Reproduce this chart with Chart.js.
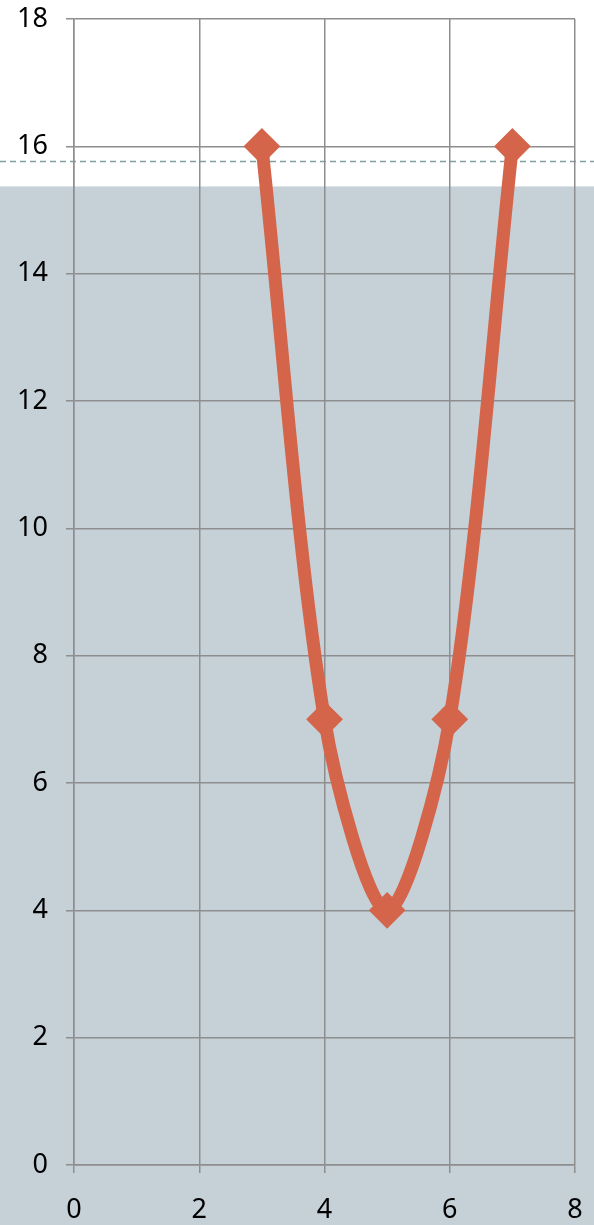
<!DOCTYPE html>
<html>
<head>
<meta charset="utf-8">
<script src="https://cdn.jsdelivr.net/npm/chart.js@4/dist/chart.umd.min.js"></script>
<style>
  html, body { margin: 0; padding: 0; background: #ffffff; }
  #wrap { width: 594px; height: 1225px; position: relative; }
</style>
</head>
<body>
<div id="wrap"><canvas id="chart"></canvas></div>
<script>
// data
const xValues = [3, 4, 5, 6, 7];
const yValues = [16, 7, 4, 7, 16];
const xTicks = [0, 2, 4, 6, 8];
const yTicks = [0, 2, 4, 6, 8, 10, 12, 14, 16, 18];

// shaded band below this value, dashed reference a bit above it
const bandTop = 15.37;
const dashLevel = 15.76;

const points = xValues.map((x, i) => ({ x: x, y: yValues[i] }));

const bandPlugin = {
  id: 'band',
  beforeDraw(chart) {
    const ctx = chart.ctx;
    const y = chart.scales.y;
    const top = y.getPixelForValue(bandTop);
    const dash = y.getPixelForValue(dashLevel);
    ctx.save();
    ctx.fillStyle = '#c5d0d7';
    ctx.fillRect(0, top, chart.width, chart.height - top);
    ctx.strokeStyle = '#7f9fa0';
    ctx.lineWidth = 1.5;
    ctx.setLineDash([6, 4]);
    ctx.beginPath();
    ctx.moveTo(0, dash);
    ctx.lineTo(chart.width, dash);
    ctx.stroke();
    ctx.restore();
  }
};

const gridColor = '#8e8e8e';
const tickFont = { family: 'Noto Sans', size: 27, lineHeight: 1 };

new Chart(document.getElementById('chart'), {
  type: 'line',
  data: {
    datasets: [{
      data: points,
      borderColor: '#d4654a',
      backgroundColor: '#d4654a',
      borderWidth: 13,
      tension: 0.3,
      pointStyle: 'rectRot',
      pointRadius: 17,
      pointBorderWidth: 2,
      pointBorderColor: '#d4654a',
      pointBackgroundColor: '#d4654a'
    }]
  },
  options: {
    responsive: true,
    maintainAspectRatio: false,
    animation: false,
    layout: { padding: { top: 17, right: 16, left: 0, bottom: 0 } },
    plugins: { legend: { display: false }, tooltip: { enabled: false } },
    scales: {
      x: {
        type: 'linear',
        min: 0,
        max: 8,
        afterBuildTicks: s => { s.ticks = xTicks.map(v => ({ value: v })); },
        afterFit: s => { s.height = 60; s.paddingLeft = 0; s.paddingRight = 0; },
        grid: { color: gridColor, lineWidth: 1.5, tickLength: 8 },
        border: { color: gridColor, width: 1.5 },
        ticks: { color: '#000', font: tickFont, padding: 24, maxRotation: 0 }
      },
      y: {
        min: 0,
        max: 18,
        afterBuildTicks: s => { s.ticks = yTicks.map(v => ({ value: v })); },
        afterFit: s => { s.width = 74; s.paddingTop = 0; s.paddingBottom = 0; },
        grid: { color: gridColor, lineWidth: 1.5, tickLength: 8 },
        border: { color: gridColor, width: 1.5 },
        ticks: { color: '#000', font: tickFont, padding: 18 }
      }
    }
  },
  plugins: [bandPlugin]
});
</script>
</body>
</html>
